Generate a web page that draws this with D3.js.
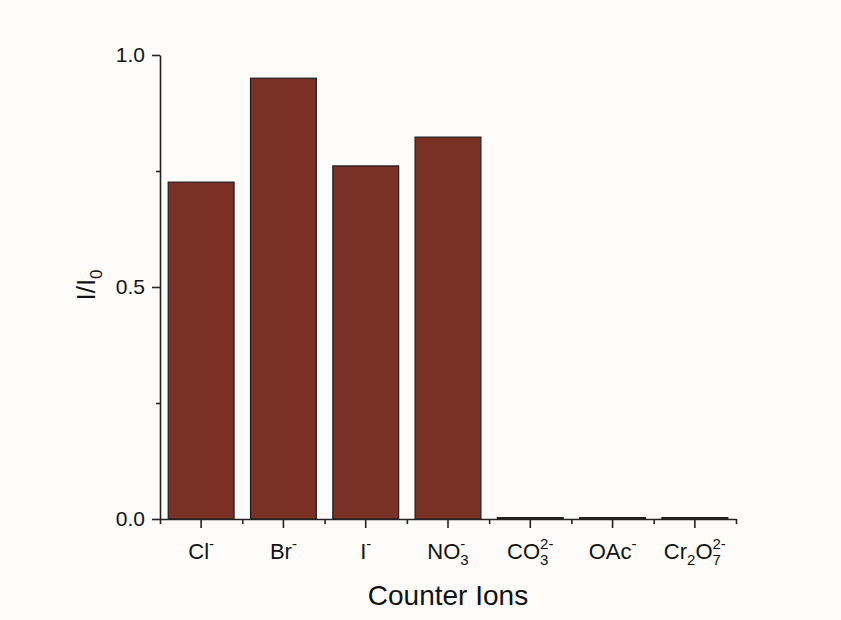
<!DOCTYPE html>
<html>
<head>
<meta charset="utf-8">
<script src="https://cdn.jsdelivr.net/npm/d3@7"></script>
<style>
  body { margin: 0; background: #fdfcfb; }
  svg { display: block; font-family: "Liberation Sans", Arial, sans-serif; }
</style>
</head>
<body>
<div id="chart"></div>
<script>
// counter ions on the x axis, label pieces are [text, "sub" | "sup" | ""]
const ions = ["Cl-", "Br-", "I-", "NO3-", "CO3 2-", "OAc-", "Cr2O7 2-"];
const ionLabels = [
    [["Cl", ""], ["-", "sup"]],
    [["Br", ""], ["-", "sup"]],
    [["I", ""], ["-", "sup"]],
    [["NO", ""], ["3", "sub"], ["-", "sup"]],
    [["CO", ""], ["3", "sub"], ["2-", "sup"]],
    [["OAc", ""], ["-", "sup"]],
    [["Cr", ""], ["2", "sub"], ["O", ""], ["7", "sub"], ["2-", "sup"]]
];
const ratio = [0.726, 0.950, 0.761, 0.823, 0.003, 0.003, 0.003];
const yTicks = [0, 0.5, 1.0];
const yMinorTicks = [0.25, 0.75];

const W = 841, H = 620;
const plot = { left: 160, right: 736, top: 55, bottom: 519 };

const svg = d3.select("#chart")
    .append("svg")
    .attr("width", W)
    .attr("height", H);

svg.append("rect").attr("width", W).attr("height", H).attr("fill", "#fdfcfb");

const x = d3.scaleBand()
    .domain(ions)
    .range([plot.left, plot.right])
    .paddingInner(0.2)
    .paddingOuter(0.1);

const y = d3.scaleLinear()
    .domain([0, 1])
    .range([plot.bottom, plot.top]);

// minor ticks on x sit on the band boundaries
const xEdges = d3.scaleLinear().domain([0, ions.length]).range([plot.left, plot.right]);

svg.selectAll("rect.bar")
    .data(ions)
    .enter()
    .append("rect")
    .attr("class", "bar")
    .attr("x", d => x(d))
    .attr("width", x.bandwidth())
    .attr("y", (d, i) => y(ratio[i]))
    .attr("height", (d, i) => y(0) - y(ratio[i]))
    .attr("fill", "#7a3024")
    .attr("stroke", "#1e1e1e")
    .attr("stroke-width", 1.2);

function styleAxis(g) {
    g.selectAll("path, line").attr("stroke", "#222").attr("stroke-width", 1.6);
    g.selectAll("text").attr("fill", "#111").style("font-size", "21px");
}

// x axis: major ticks (no labels) + minor ticks at boundaries
svg.append("g")
    .attr("transform", `translate(0,${plot.bottom})`)
    .call(d3.axisBottom(x).tickSize(9).tickSizeOuter(0).tickFormat(""))
    .call(styleAxis);

svg.append("g")
    .attr("transform", `translate(0,${plot.bottom})`)
    .call(d3.axisBottom(xEdges).tickValues(d3.range(ions.length + 1)).tickSize(5).tickSizeOuter(0).tickFormat(""))
    .call(g => g.select(".domain").remove())
    .call(styleAxis);

// y axis
svg.append("g")
    .attr("transform", `translate(${plot.left},0)`)
    .call(d3.axisLeft(y).tickValues(yTicks).tickFormat(d3.format(".1f")).tickSize(8).tickSizeOuter(0).tickPadding(7))
    .call(styleAxis);

svg.append("g")
    .attr("transform", `translate(${plot.left},0)`)
    .call(d3.axisLeft(y).tickValues(yMinorTicks).tickFormat("").tickSize(4).tickSizeOuter(0))
    .call(g => g.select(".domain").remove())
    .call(styleAxis);

// category labels with sub/superscripts
const labelBase = 559;
ions.forEach((ion, i) => {
    const t = svg.append("text")
        .attr("x", x(ion) + x.bandwidth() / 2)
        .attr("y", labelBase)
        .attr("text-anchor", "middle")
        .attr("fill", "#111")
        .style("font-size", "22px");
    let shift = 0, lastSubLen = 0;
    ionLabels[i].forEach(([txt, kind]) => {
        const target = kind === "sub" ? 6 : kind === "sup" ? -10 : 0;
        const ts = t.append("tspan")
            .attr("dy", target - shift)
            .style("font-size", kind ? "15px" : "22px")
            .text(txt);
        if (kind === "sup" && lastSubLen) ts.attr("dx", -lastSubLen);
        lastSubLen = kind === "sub" ? ts.node().getComputedTextLength() : 0;
        shift = target;
    });
});

// axis titles
svg.append("text")
    .attr("x", (plot.left + plot.right) / 2)
    .attr("y", 605)
    .attr("text-anchor", "middle")
    .attr("fill", "#111")
    .style("font-size", "28px")
    .text("Counter Ions");

const yl = svg.append("text")
    .attr("transform", `translate(95,${(plot.top + plot.bottom) / 2 - 2}) rotate(-90)`)
    .attr("text-anchor", "middle")
    .attr("fill", "#111")
    .style("font-size", "26px");
yl.append("tspan").text("I/I");
yl.append("tspan").attr("dy", 7).style("font-size", "17px").text("0");
</script>
</body>
</html>
